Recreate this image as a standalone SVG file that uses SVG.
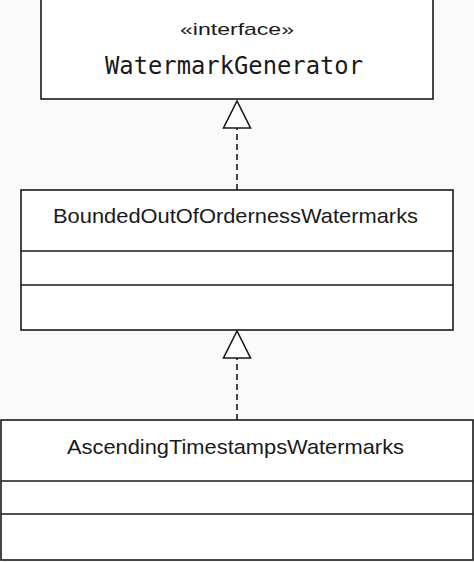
<svg xmlns="http://www.w3.org/2000/svg" width="474" height="562" viewBox="0 0 474 562">
<style>
.box{fill:#ffffff;stroke:#1a1a1a;stroke-width:1.6}
.div{stroke:#1a1a1a;stroke-width:1.6}
.t{font-family:"Liberation Sans",Arial,sans-serif;fill:#1a1a1a;text-anchor:middle}
.m{font-family:"DejaVu Sans Mono","Liberation Mono",monospace;fill:#1a1a1a;text-anchor:middle}
.dash{stroke:#1a1a1a;stroke-width:1.6;stroke-dasharray:6,4;fill:none}
.head{fill:#ffffff;stroke:#1a1a1a;stroke-width:1.6}
</style>
<rect width="474" height="562" fill="#fafafa"/>
<g id="WatermarkGenerator">
<rect class="box" x="41" y="-1" width="392" height="100"/>
<text class="t" x="237" y="35" font-size="17" textLength="114" lengthAdjust="spacingAndGlyphs">«interface»</text>
<text class="m" x="234" y="74" font-size="24" textLength="258" lengthAdjust="spacingAndGlyphs">WatermarkGenerator</text>
</g>
<g id="BoundedOutOfOrdernessWatermarks">
<rect class="box" x="21" y="190" width="432" height="140"/>
<line class="div" x1="21" y1="251" x2="453" y2="251"/>
<line class="div" x1="21" y1="285" x2="453" y2="285"/>
<text class="t" x="235.5" y="223" font-size="21" textLength="365" lengthAdjust="spacingAndGlyphs">BoundedOutOfOrdernessWatermarks</text>
</g>
<g id="AscendingTimestampsWatermarks">
<rect class="box" x="1" y="420" width="472" height="140"/>
<line class="div" x1="1" y1="481" x2="473" y2="481"/>
<line class="div" x1="1" y1="514" x2="473" y2="514"/>
<text class="t" x="235.5" y="454" font-size="21" textLength="337" lengthAdjust="spacingAndGlyphs">AscendingTimestampsWatermarks</text>
</g>
<g id="connectors">
<line class="dash" x1="237" y1="190" x2="237" y2="128"/>
<polygon class="head" points="237,101 223.5,128 250.5,128"/>
<line class="dash" x1="237" y1="420" x2="237" y2="358"/>
<polygon class="head" points="237,331 223.5,358 250.5,358"/>
</g>
</svg>
